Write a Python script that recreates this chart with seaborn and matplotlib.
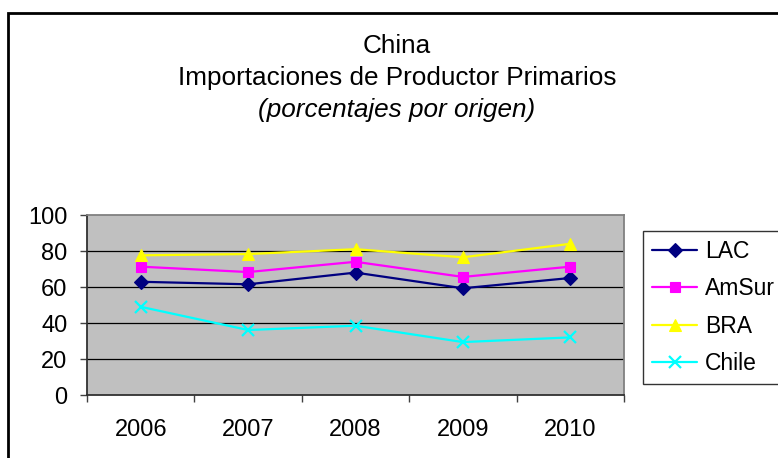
import matplotlib
matplotlib.use("Agg")
import matplotlib.pyplot as plt
from matplotlib.patches import Rectangle
import seaborn as sns
import pandas as pd

# ---- data ----
years = ["2006", "2007", "2008", "2009", "2010"]
series = ["LAC", "AmSur", "BRA", "Chile"]
lac = [62.9, 61.5, 68.0, 59.3, 65.0]
amsur = [71.3, 68.3, 74.0, 65.6, 71.3]
bra = [77.6, 78.3, 81.0, 76.5, 84.0]
chile = [49.0, 36.1, 38.5, 29.4, 32.0]
yticks = [0, 20, 40, 60, 80, 100]
title_lines = ["China", "Importaciones de Productor Primarios", "(porcentajes por origen)"]

colors = {"LAC": "#000080", "AmSur": "#FF00FF", "BRA": "#FFFF00", "Chile": "#00FFFF"}
markers = {"LAC": "D", "AmSur": "s", "BRA": "^", "Chile": "x"}
msizes = {"LAC": 7, "AmSur": 7, "BRA": 8.5, "Chile": 8}

df = pd.DataFrame({
    "Año": years * 4,
    "Valor": lac + amsur + bra + chile,
    "Serie": [s for s in series for _ in years],
})

sns.set_style("white")
plt.rcParams["font.family"] = ["Liberation Sans", "DejaVu Sans"]
plt.rcParams["text.color"] = "black"
plt.rcParams["xtick.labelcolor"] = "black"
plt.rcParams["ytick.labelcolor"] = "black"

fig = plt.figure(figsize=(7.78, 4.58), dpi=100)
ax = fig.add_axes([87 / 778, 1 - 395 / 458, (624 - 87) / 778, (395 - 215) / 458])
ax.set_facecolor("#C0C0C0")

for s in series:
    sub = df[df["Serie"] == s]
    sns.lineplot(data=sub, x="Año", y="Valor", color=colors[s],
                 marker=markers[s], linewidth=1.6, markersize=msizes[s],
                 markeredgecolor=colors[s], markerfacecolor=colors[s],
                 markeredgewidth=1.6 if s == "Chile" else 0.8,
                 ax=ax, sort=False, zorder=3)

ax.set_xlim(-0.5, len(years) - 0.5)
ax.set_ylim(0, 100)
ax.set_yticks(yticks)
ax.set_yticklabels([str(v) for v in yticks])
ax.set_xlabel("")
ax.set_ylabel("")

ax.grid(False)
for v in yticks[1:-1]:
    ax.axhline(v, color="black", linewidth=0.9, zorder=1)

# ticks
ax.tick_params(axis="y", which="major", direction="out", length=5, width=1,
               color="#404040", labelcolor="black", labelsize=17, pad=9, left=True)
ax.set_xticks(range(len(years)))
ax.set_xticklabels(years)
ax.set_xticks([i - 0.5 for i in range(len(years) + 1)], minor=True)
ax.tick_params(axis="x", which="major", length=0, labelsize=17, pad=17,
               labelcolor="black")
ax.tick_params(axis="x", which="minor", direction="out", length=5, width=1,
               color="#404040", bottom=True)

for side in ["left", "bottom"]:
    ax.spines[side].set_color("#303030")
    ax.spines[side].set_linewidth(1.3)
for side in ["top", "right"]:
    ax.spines[side].set_color("#808080")
    ax.spines[side].set_linewidth(1.3)

# legend
handles = [l for l in ax.lines if l.get_marker() not in (None, "None", "")][:len(series)]
leg = fig.legend(handles, series, loc="upper left",
                 bbox_to_anchor=(643 / 778, 1 - 231 / 458),
                 fontsize=16.5, frameon=True, fancybox=False, shadow=False,
                 edgecolor="black", handlelength=1.95, handletextpad=0.35,
                 borderpad=0.4, labelspacing=0.62, borderaxespad=0,
                 labelcolor="black")
leg.get_frame().set_linewidth(1.0)

# title
tx = 397 / 778
fig.text(tx, 1 - 53 / 458, title_lines[0], ha="center", va="baseline",
         fontsize=18.8, color="black")
fig.text(tx, 1 - 85 / 458, title_lines[1], ha="center", va="baseline",
         fontsize=18.8, color="black")
fig.text(tx, 1 - 117 / 458, title_lines[2], ha="center", va="baseline",
         fontsize=18.8, style="italic", color="black")

# outer chart frame
fig.patches.append(Rectangle((8 / 778, -0.05), 1.1, 1 - 13 / 458 + 0.05,
                             transform=fig.transFigure, fill=False,
                             edgecolor="black", linewidth=2, clip_on=False))

fig.savefig("out.png", dpi=100)
